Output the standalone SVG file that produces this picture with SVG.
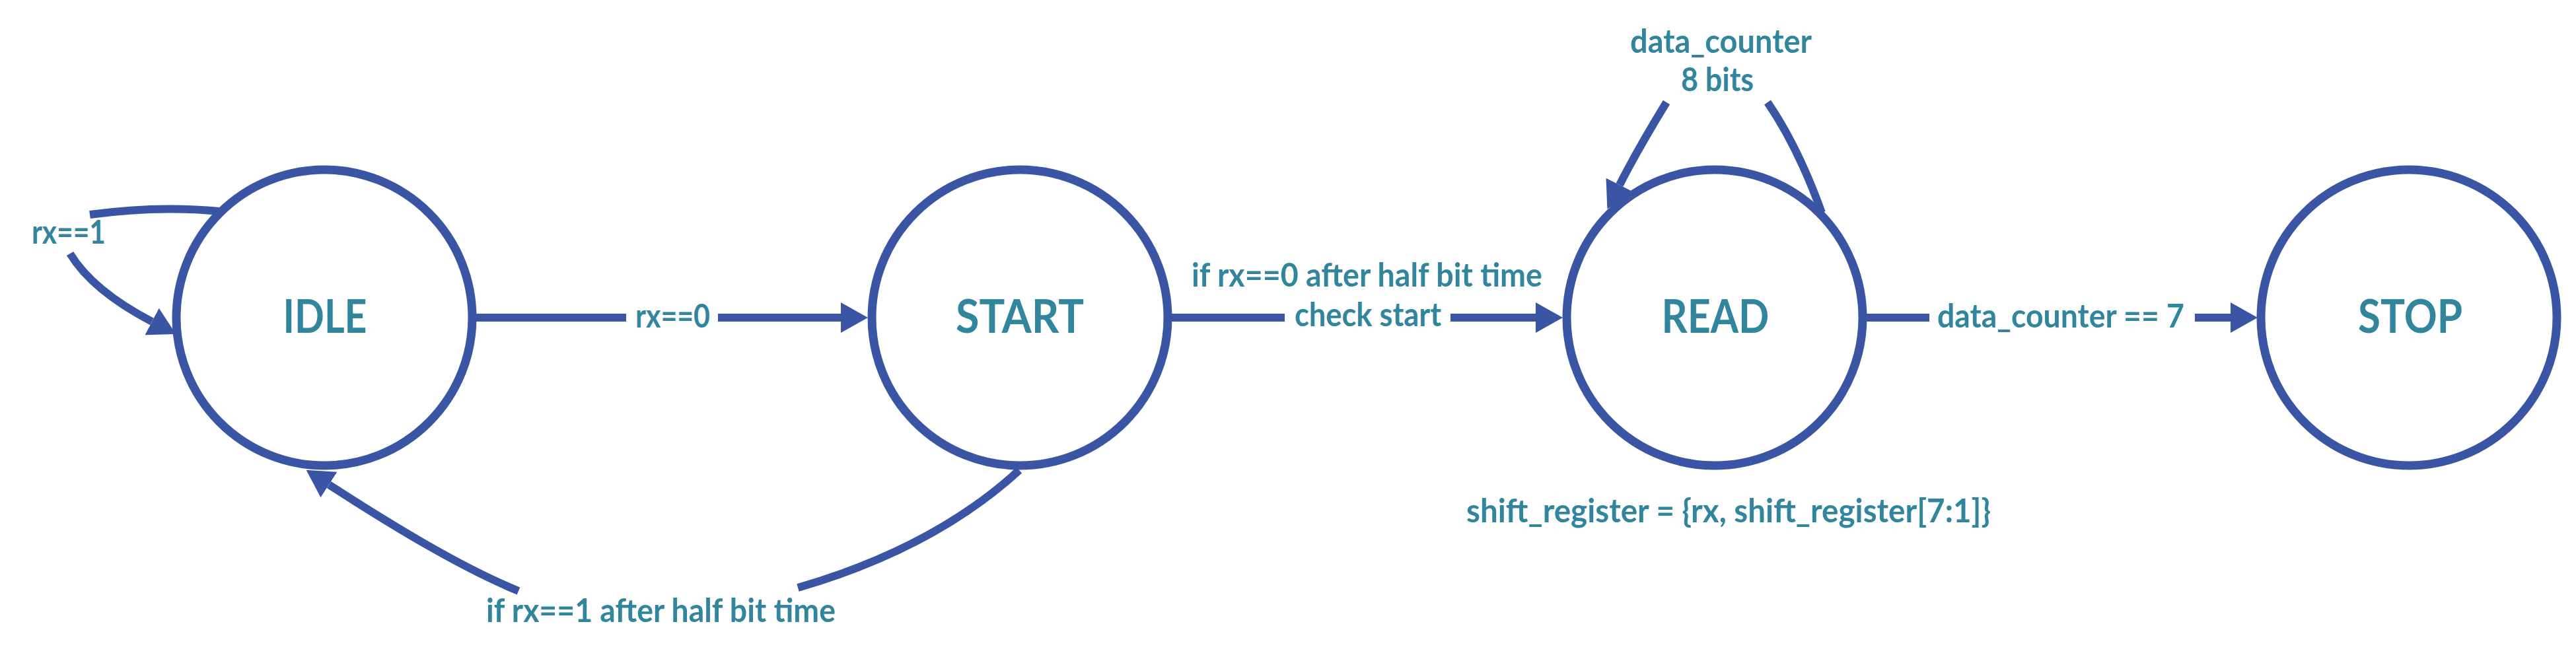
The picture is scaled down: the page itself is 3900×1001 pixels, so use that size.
<svg xmlns="http://www.w3.org/2000/svg" width="3900" height="1001" viewBox="0 0 3900 1001">
<style>
.state{fill:#ffffff;stroke:#3B55A5;stroke-width:13}
.edge{fill:none;stroke:#3B55A5;stroke-width:12}
.sname{font-family:Lato,"Open Sans","Liberation Sans",sans-serif;font-weight:700;font-size:70px;fill:#31859C;text-anchor:middle}
.lbl{font-family:Lato,"Open Sans","Liberation Sans",sans-serif;font-weight:700;font-size:50px;fill:#31859C}
</style>
<defs>
<marker id="arrow" markerUnits="userSpaceOnUse" markerWidth="42" markerHeight="46" refX="0" refY="23" orient="auto">
<path d="M0,0 L41,23 L0,46 z" fill="#3B55A5"/>
</marker>
</defs>
<rect width="3900" height="1001" fill="#ffffff"/>
<g id="connectors">
<!-- IDLE self loop -->
<path class="edge" d="M332,320 Q240,311 136,325" stroke-width="13"/>
<path class="edge" d="M106,384 Q140,440 230,487" marker-end="url(#arrow)"/>
<text class="lbl" x="48" y="369" textLength="112" lengthAdjust="spacingAndGlyphs">rx==1</text>
<!-- IDLE -> START -->
<path class="edge" d="M716,481 H948"/>
<path class="edge" d="M1087,481 H1273" marker-end="url(#arrow)"/>
<text class="lbl" x="962" y="496" textLength="113" lengthAdjust="spacingAndGlyphs">rx==0</text>
<!-- START -> READ -->
<path class="edge" d="M1770,481 H1945"/>
<path class="edge" d="M2196,481 H2325" marker-end="url(#arrow)"/>
<text class="lbl" x="1804" y="434" textLength="531" lengthAdjust="spacingAndGlyphs">if rx==0 after half bit time</text>
<text class="lbl" x="1960" y="494" textLength="222" lengthAdjust="spacingAndGlyphs">check start</text>
<!-- START -> IDLE (bottom) -->
<path class="edge" d="M1543,712 C1480,770 1380,840 1208,890"/>
<path class="edge" d="M785,895 C700,860 600,800 498,734" marker-end="url(#arrow)"/>
<text class="lbl" x="736" y="942" textLength="529" lengthAdjust="spacingAndGlyphs">if rx==1 after half bit time</text>
<!-- READ self loop -->
<path class="edge" d="M2758,322 Q2722,222 2676,155"/>
<path class="edge" d="M2523,155 Q2480,225 2452,280" marker-end="url(#arrow)"/>
<text class="lbl" x="2468" y="80" textLength="275" lengthAdjust="spacingAndGlyphs">data_counter</text>
<text class="lbl" x="2545" y="138" textLength="110" lengthAdjust="spacingAndGlyphs">8 bits</text>
<!-- READ -> STOP -->
<path class="edge" d="M2822,481 H2921"/>
<path class="edge" d="M3323,481 H3377" marker-end="url(#arrow)"/>
<text class="lbl" x="2933" y="496" textLength="374" lengthAdjust="spacingAndGlyphs">data_counter == 7</text>
<!-- READ action -->
<text class="lbl" x="2220" y="791" textLength="794" lengthAdjust="spacingAndGlyphs">shift_register = {rx, shift_register[7:1]}</text>
</g>
<g id="IDLE">
<circle class="state" cx="491" cy="481" r="224"/>
<text class="sname" x="492" y="504" textLength="127" lengthAdjust="spacingAndGlyphs">IDLE</text>
</g>
<g id="START">
<circle class="state" cx="1544" cy="481" r="224"/>
<text class="sname" x="1544" y="504" textLength="194" lengthAdjust="spacingAndGlyphs">START</text>
</g>
<g id="READ">
<circle class="state" cx="2596" cy="481" r="224"/>
<text class="sname" x="2597" y="504" textLength="163" lengthAdjust="spacingAndGlyphs">READ</text>
</g>
<g id="STOP">
<circle class="state" cx="3647" cy="481" r="224"/>
<text class="sname" x="3649" y="504" textLength="158" lengthAdjust="spacingAndGlyphs">STOP</text>
</g>
</svg>
